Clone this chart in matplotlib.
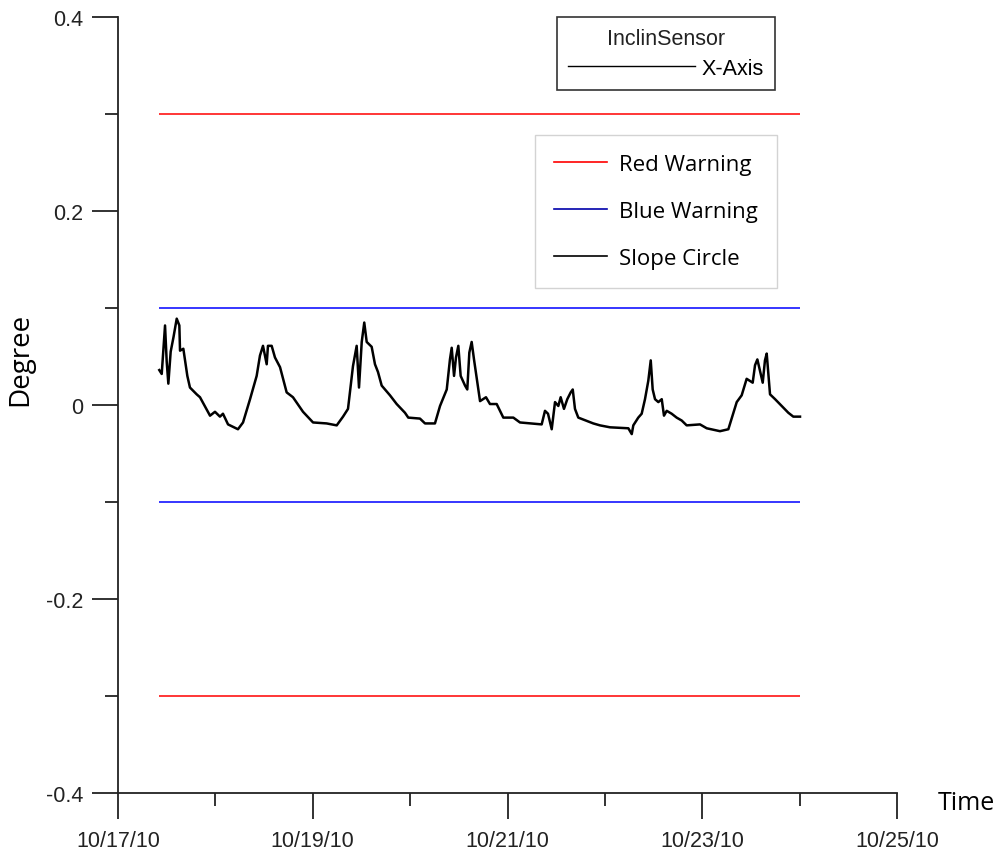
import numpy as np
import pandas as pd
import matplotlib
matplotlib.use('Agg')
import matplotlib.pyplot as plt
import matplotlib.dates as mdates
from matplotlib.lines import Line2D

# Dados (dias a partir de 10/17/10, graus)
dias = [0.424, 0.449, 0.483, 0.500, 0.517, 0.541, 0.570, 0.603, 0.630, 0.637, 0.671,
        0.712, 0.739, 0.808, 0.842, 0.945, 0.996, 1.047, 1.078, 1.130, 1.232, 1.284,
        1.356, 1.424, 1.458, 1.489, 1.527, 1.540, 1.578, 1.612, 1.664, 1.732, 1.797,
        1.900, 2.003, 2.143, 2.246, 2.311, 2.362, 2.413, 2.451, 2.475, 2.503, 2.529,
        2.554, 2.605, 2.639, 2.670, 2.708, 2.793, 2.862, 2.947, 2.981, 3.101, 3.153,
        3.255, 3.307, 3.376, 3.409, 3.427, 3.451, 3.471, 3.495, 3.519, 3.564, 3.587,
        3.608, 3.632, 3.656, 3.690, 3.718, 3.779, 3.820, 3.889, 3.957, 4.060, 4.128,
        4.351, 4.385, 4.416, 4.454, 4.488, 4.522, 4.546, 4.580, 4.614, 4.649, 4.670,
        4.693, 4.727, 4.881, 4.950, 5.053, 5.241, 5.276, 5.292, 5.343, 5.378, 5.412,
        5.446, 5.471, 5.491, 5.515, 5.549, 5.584, 5.607, 5.635, 5.686, 5.737, 5.789,
        5.840, 5.977, 6.046, 6.182, 6.268, 6.302, 6.354, 6.405, 6.456, 6.518, 6.542,
        6.566, 6.593, 6.621, 6.644, 6.662, 6.696, 6.748, 6.816, 6.884, 6.935, 7.004]
grau = [0.036, 0.032, 0.082, 0.045, 0.022, 0.055, 0.070, 0.089, 0.082, 0.056, 0.058,
        0.030, 0.018, 0.011, 0.008, -0.011, -0.007, -0.012, -0.009, -0.020, -0.025, -0.018,
        0.006, 0.030, 0.051, 0.061, 0.042, 0.061, 0.061, 0.049, 0.039, 0.013, 0.008,
        -0.007, -0.018, -0.019, -0.021, -0.012, -0.004, 0.040, 0.061, 0.018, 0.065, 0.085,
        0.065, 0.060, 0.042, 0.034, 0.020, 0.010, 0.001, -0.008, -0.013, -0.014, -0.019,
        -0.019, -0.001, 0.016, 0.047, 0.059, 0.030, 0.049, 0.061, 0.030, 0.020, 0.016,
        0.054, 0.065, 0.047, 0.023, 0.004, 0.008, 0.001, 0.001, -0.013, -0.013, -0.018,
        -0.020, -0.006, -0.009, -0.025, 0.003, -0.001, 0.008, -0.004, 0.006, 0.013, 0.016,
        -0.004, -0.013, -0.019, -0.021, -0.023, -0.024, -0.030, -0.021, -0.013, -0.009, 0.006,
        0.025, 0.046, 0.016, 0.006, 0.003, 0.006, -0.011, -0.006, -0.009, -0.013, -0.016,
        -0.021, -0.020, -0.024, -0.027, -0.025, -0.014, 0.003, 0.010, 0.027, 0.023, 0.041,
        0.047, 0.035, 0.023, 0.046, 0.053, 0.011, 0.006, -0.001, -0.008, -0.012, -0.012]

alerta_vermelho = 0.3
alerta_azul = 0.1

inicio = pd.Timestamp('2010-10-17')
t = inicio + pd.to_timedelta(np.array(dias), unit='D')

fig = plt.figure(figsize=(10.03, 8.62), dpi=100)
ax = fig.add_axes([118 / 1003, 68 / 862, 779 / 1003, 776 / 862])

# Linhas de alerta
ax.hlines([alerta_vermelho, -alerta_vermelho], t[0], t[-1], color='#ff0000', lw=1.1)
ax.hlines([alerta_azul, -alerta_azul], t[0], t[-1], color='#0000ff', lw=1.1)

# Série medida
ax.plot(t, grau, color='black', lw=1.8)

ax.set_xlim(inicio, pd.Timestamp('2010-10-25'))
ax.set_ylim(-0.4, 0.4)

for s in ['top', 'right']:
    ax.spines[s].set_visible(False)
for s in ['left', 'bottom']:
    ax.spines[s].set_linewidth(1.3)
    ax.spines[s].set_color('#222222')

ax.xaxis.set_major_locator(mdates.DayLocator(interval=2))
ax.xaxis.set_minor_locator(mdates.DayLocator())
ax.xaxis.set_major_formatter(mdates.DateFormatter('%m/%d/%y'))
ax.set_yticks([-0.4, -0.2, 0, 0.2, 0.4])
ax.set_yticklabels(['-0.4', '-0.2', '0', '0.2', '0.4'])
ax.set_yticks([-0.3, -0.1, 0.1, 0.3], minor=True)

# comprimentos em pontos (26 px e 13 px a 100 dpi)
ax.tick_params(axis='both', which='major', length=18.7, width=1.3, color='#222222',
               labelsize=15.5, labelcolor='#222222')
ax.tick_params(axis='both', which='minor', length=9.4, width=1.3, color='#222222')
ax.tick_params(axis='x', which='major', pad=8)
ax.tick_params(axis='y', which='major', pad=6.5)
for lb in ax.get_xticklabels() + ax.get_yticklabels():
    lb.set_fontfamily('Liberation Sans')

ax.set_ylabel('Degree', fontsize=20, family='Open Sans')
ax.yaxis.set_label_coords(-0.108, 0.56)
fig.text(0.935, 0.068, 'Time', fontsize=18, family='Open Sans', ha='left', va='center')

# Legendas
h1 = [Line2D([0], [0], color='black', lw=1)]
leg1 = ax.legend(h1, ['X-Axis'], title='InclinSensor', loc='upper left',
                 bbox_to_anchor=(0.5636, 1.0), frameon=True, fancybox=False,
                 edgecolor='black', handlelength=5.9, handletextpad=0.33,
                 borderpad=0.5, labelspacing=0.42, borderaxespad=0,
                 prop={'family': 'Liberation Sans', 'size': 15.5},
                 title_fontproperties={'family': 'Liberation Sans', 'size': 15.5})
leg1.get_frame().set_linewidth(1.2)
leg1.get_title().set_color('#222222')
ax.add_artist(leg1)

h2 = [Line2D([0], [0], color='#ff0000', lw=1.2),
      Line2D([0], [0], color='#0000aa', lw=1.2),
      Line2D([0], [0], color='black', lw=1.2)]
leg2 = ax.legend(h2, ['Red Warning', 'Blue Warning', 'Slope Circle'], loc='upper left',
                 bbox_to_anchor=(0.5353, 0.848), frameon=True, fancybox=False,
                 edgecolor='#c8c8c8', handlelength=2.4, handletextpad=0.5,
                 borderpad=0.86, labelspacing=1.16, borderaxespad=0,
                 prop={'family': 'Open Sans', 'size': 16})
leg2.get_frame().set_linewidth(1.0)

fig.savefig('out.png', dpi=100)
